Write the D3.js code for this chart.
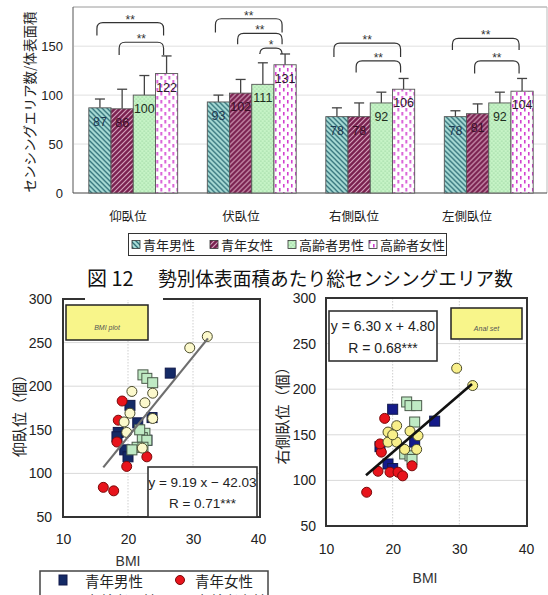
<!DOCTYPE html>
<html>
<head>
<meta charset="utf-8">
<script src="https://cdn.jsdelivr.net/npm/d3@7"></script>
<style>
  body { margin: 0; background: #fff; }
  svg { display: block; }
</style>
</head>
<body>
<svg id="chart" width="548" height="595"></svg>
<script>
// ---- bar chart data: sensing areas per body surface area, by posture ----
const postures = ["仰臥位", "伏臥位", "右側臥位", "左側臥位"];
const groups = ["青年男性", "青年女性", "高齢者男性", "高齢者女性"];
const meanYoungMale   = [87, 93, 78, 78];
const meanYoungFemale = [86, 102, 78, 81];
const meanElderMale   = [100, 111, 92, 92];
const meanElderFemale = [122, 131, 106, 104];
const sdYoungMale   = [9, 7, 9, 6];
const sdYoungFemale = [20, 14, 14, 10];
const sdElderMale   = [20, 22, 11, 11];
const sdElderFemale = [18, 11, 11, 13];
const barTicks = [0, 50, 100, 150];

// significance brackets (posture index, from group, to group, top value, end value, mark)
const sigPosture = [0, 0, 1, 1, 1, 2, 2, 3, 3];
const sigFrom    = [0, 1, 0, 1, 2, 0, 1, 0, 1];
const sigTo      = [3, 3, 3, 3, 3, 3, 3, 3, 3];
const sigTop     = [174, 154, 178, 163, 148, 153, 135, 158, 135];
const sigEnd     = [161, 141, 164, 152, 143, 139, 123, 146, 122];
const sigMark    = ["**", "**", "**", "**", "*", "**", "**", "**", "**"];

// ---- scatter data: BMI vs total sensing areas ----
const supineYoungMale   = [[26.5,215],[20.3,178],[18.5,147],[18.3,142],[19.5,127],[20.0,119],[22.9,138],[21.5,158],[23.7,164]];
const supineYoungFemale = [[16.2,84],[17.8,80],[19.8,108],[22.9,119],[19.1,183],[18.5,161],[18.3,136]];
const supineElderMale   = [[22.3,213],[22.9,209],[23.8,204],[22.6,146],[22.2,141],[22.9,138],[21.4,130],[20.6,127],[22.3,130],[21.8,150]];
const supineElderFemale = [[20.6,194],[22.6,181],[23.8,192],[23.8,163],[20.3,169],[19.4,159],[19.8,147],[22.2,129],[29.5,244],[32.2,257]];

const rightYoungMale   = [[20.0,178],[26.3,165],[18.1,137],[19.3,118],[20.0,113],[23.3,142]];
const rightYoungFemale = [[18.8,168],[16.1,87],[17.8,110],[19.6,109],[20.8,109],[21.5,105],[22.9,116],[18.3,131],[18.1,140]];
const rightElderMale   = [[22.1,186],[22.6,182],[23.6,182],[23.3,164],[21.8,129],[22.6,127],[22.9,123]];
const rightElderFemale = [[20.6,160],[19.3,153],[22.6,154],[23.8,149],[19.3,142],[20.6,142],[21.8,134],[23.6,134],[29.6,223],[32.0,204],[20.0,150]];

const supineFit = { slope: 9.19, intercept: -42.03, r: 0.71, from: 16.2, to: 32.3 };
const rightFit  = { slope: 6.30, intercept: 4.80,  r: 0.68, from: 16.0, to: 31.9 };

const bmiTicks = [10, 20, 30, 40];
const countTicks = [50, 100, 150, 200, 250, 300];

const JP = "'Noto Sans CJK JP', 'Noto Sans', sans-serif";
const NUM = "'Liberation Sans', Arial, sans-serif";

const svg = d3.select("#chart");
svg.append("rect").attr("width", 548).attr("height", 595).attr("fill", "#fff");

// ---- fill patterns ----
const defs = svg.append("defs");
const p1 = defs.append("pattern").attr("id", "pYM").attr("patternUnits", "userSpaceOnUse").attr("width", 5).attr("height", 5);
p1.append("rect").attr("width", 5).attr("height", 5).attr("fill", "#a9dcd6");
p1.append("path").attr("d", "M0,0L5,5M-1,4L1,6M4,-1L6,1").attr("stroke", "#2f6f78").attr("stroke-width", 1.3);

const p2 = defs.append("pattern").attr("id", "pYF").attr("patternUnits", "userSpaceOnUse").attr("width", 5).attr("height", 5);
p2.append("rect").attr("width", 5).attr("height", 5).attr("fill", "#7a2150");
p2.append("path").attr("d", "M0,5L5,0M-1,1L1,-1M4,6L6,4").attr("stroke", "#d8a6c0").attr("stroke-width", 1.1);

const p3 = defs.append("pattern").attr("id", "pEM").attr("patternUnits", "userSpaceOnUse").attr("width", 4).attr("height", 4);
p3.append("rect").attr("width", 4).attr("height", 4).attr("fill", "#c6f3c6");
p3.append("circle").attr("cx", 1).attr("cy", 1).attr("r", 0.6).attr("fill", "#7cbf86");
p3.append("circle").attr("cx", 3).attr("cy", 3).attr("r", 0.6).attr("fill", "#7cbf86");

const p4 = defs.append("pattern").attr("id", "pEF").attr("patternUnits", "userSpaceOnUse").attr("width", 8).attr("height", 8);
p4.append("rect").attr("width", 8).attr("height", 8).attr("fill", "#fff");
p4.append("rect").attr("x", 1).attr("y", 0).attr("width", 1.6).attr("height", 3.5).attr("fill", "#d23fcf");
p4.append("rect").attr("x", 5).attr("y", 4).attr("width", 1.6).attr("height", 3.5).attr("fill", "#d23fcf");

const groupFill = ["url(#pYM)", "url(#pYF)", "url(#pEM)", "url(#pEF)"];
const labelColor = ["#203a52", "#3a0f28", "#1e2e1e", "#2a1a2a"];

// ===================== bar chart =====================
const means = [meanYoungMale, meanYoungFemale, meanElderMale, meanElderFemale];
const sds = [sdYoungMale, sdYoungFemale, sdElderMale, sdElderFemale];

const x0 = d3.scaleBand().domain(postures).range([74, 548]).paddingInner(0.25).paddingOuter(0.125);
const x1 = d3.scaleBand().domain(groups).range([0, x0.bandwidth()]);
const yBar = d3.scaleLinear().domain([0, 190]).range([193, 7]);

const bar = svg.append("g");

// frame and gridlines
bar.append("line").attr("x1", 73).attr("x2", 547).attr("y1", 7).attr("y2", 7).attr("stroke", "#9a9a9a");
bar.append("line").attr("x1", 547).attr("x2", 547).attr("y1", 7).attr("y2", 193).attr("stroke", "#bbb");
bar.selectAll(".grid").data(barTicks.filter(t => t > 0)).join("line")
  .attr("x1", 74).attr("x2", 547)
  .attr("y1", d => yBar(d)).attr("y2", d => yBar(d))
  .attr("stroke", "#e0e0e0");

const yAxisBar = d3.axisLeft(yBar).tickValues(barTicks).tickSize(0).tickPadding(10);
const gy = bar.append("g").attr("transform", "translate(73,0)").call(yAxisBar);
gy.select(".domain").attr("stroke", "#555").attr("d", "M0,7V193");
gy.selectAll("text").attr("font-family", NUM).attr("font-size", 13).attr("fill", "#222");

bar.append("line").attr("x1", 73).attr("x2", 547).attr("y1", 193).attr("y2", 193).attr("stroke", "#444").attr("stroke-width", 1.2);

// y-axis title
bar.append("text")
  .attr("transform", "translate(35,102) rotate(-90)")
  .attr("text-anchor", "middle")
  .attr("font-family", JP).attr("font-size", 13.5).attr("fill", "#222")
  .text("センシングエリア数/体表面積");

// bars, error bars and value labels
const barData = [];
postures.forEach((p, i) => groups.forEach((g, j) => {
  barData.push({ p, g, j, v: means[j][i], sd: sds[j][i] });
}));

const cells = bar.selectAll(".cell").data(barData).join("g")
  .attr("transform", d => `translate(${x0(d.p) + x1(d.g)},0)`);

const bw = x1.bandwidth();
cells.append("line")
  .attr("x1", bw / 2).attr("x2", bw / 2)
  .attr("y1", d => yBar(d.v)).attr("y2", d => yBar(d.v + d.sd))
  .attr("stroke", "#444").attr("stroke-width", 1.3);
cells.append("line")
  .attr("x1", bw / 2 - 5).attr("x2", bw / 2 + 5)
  .attr("y1", d => yBar(d.v + d.sd)).attr("y2", d => yBar(d.v + d.sd))
  .attr("stroke", "#444").attr("stroke-width", 1.3);
cells.append("rect")
  .attr("width", bw).attr("y", d => yBar(d.v)).attr("height", d => yBar(0) - yBar(d.v))
  .attr("fill", d => groupFill[d.j]).attr("stroke", "#555").attr("stroke-width", 0.9);
cells.append("text")
  .attr("x", bw / 2).attr("y", d => yBar(d.v) + 18)
  .attr("text-anchor", "middle")
  .attr("font-family", NUM).attr("font-size", 12.5)
  .attr("fill", d => labelColor[d.j])
  .text(d => d.v);

// significance brackets
const sigData = sigPosture.map((p, k) => ({
  xa: x0(postures[p]) + x1(groups[sigFrom[k]]) + bw / 2 - 3,
  xb: x0(postures[p]) + x1(groups[sigTo[k]]) + bw / 2 - 3,
  yt: yBar(sigTop[k]), ye: yBar(sigEnd[k]), mark: sigMark[k]
}));
const sig = bar.selectAll(".sig").data(sigData).join("g");
sig.append("path")
  .attr("d", d => {
    const r = 6;
    return `M${d.xa},${d.ye}V${d.yt + r}Q${d.xa},${d.yt} ${d.xa + r},${d.yt}` +
           `H${d.xb - r}Q${d.xb},${d.yt} ${d.xb},${d.yt + r}V${d.ye}`;
  })
  .attr("fill", "none").attr("stroke", "#333").attr("stroke-width", 1.2);
sig.append("text")
  .attr("x", d => (d.xa + d.xb) / 2).attr("y", d => d.yt + 1)
  .attr("text-anchor", "middle")
  .attr("font-family", NUM).attr("font-size", 12).attr("fill", "#333")
  .text(d => d.mark);

// category labels
const xLabel = d3.scalePoint().domain(postures).range([128, 467]);
bar.selectAll(".cat").data(postures).join("text")
  .attr("x", d => xLabel(d)).attr("y", 221)
  .attr("text-anchor", "middle")
  .attr("font-family", JP).attr("font-size", 12.5).attr("fill", "#222")
  .text(d => d);

// legend
const lg = bar.append("g");
lg.append("rect").attr("x", 128.5).attr("y", 233.5).attr("width", 318).attr("height", 22)
  .attr("fill", "#fff").attr("stroke", "#333").attr("stroke-width", 1);
const legendX = [132, 210, 288, 369];
groups.forEach((g, j) => {
  lg.append("rect").attr("x", legendX[j]).attr("y", 240.5).attr("width", 8).attr("height", 8)
    .attr("fill", groupFill[j]).attr("stroke", "#333").attr("stroke-width", 0.8);
  lg.append("text").attr("x", legendX[j] + 11).attr("y", 249.5)
    .attr("font-family", JP).attr("font-size", 13).attr("fill", "#222").text(g);
});

// ===================== scatter plots =====================
function scatter(o) {
  const g = svg.append("g");
  const x = d3.scaleLinear().domain([10, 40]).range(o.xr);
  const y = d3.scaleLinear().domain([50, 300]).range(o.yr);

  // gridlines
  g.selectAll(".gx").data([20, 30]).join("line")
    .attr("x1", d => x(d)).attr("x2", d => x(d)).attr("y1", o.yr[1]).attr("y2", o.yr[0])
    .attr("stroke", "#cfcfcf").attr("stroke-dasharray", "1.5,1.5");
  g.selectAll(".gy").data([100, 150, 200, 250]).join("line")
    .attr("x1", o.xr[0]).attr("x2", o.boxRight).attr("y1", d => y(d)).attr("y2", d => y(d))
    .attr("stroke", "#d9d9d9");

  // axes
  const ax = d3.axisLeft(y).tickValues(countTicks).tickSize(0).tickPadding(o.tickPadY);
  const gya = g.append("g").attr("transform", `translate(${o.xr[0]},0)`).call(ax);
  gya.select(".domain").remove();
  gya.selectAll("text").attr("font-family", NUM).attr("font-size", 14).attr("fill", "#222");
  const bx = d3.axisBottom(x).tickValues(bmiTicks).tickSize(0).tickPadding(o.tickPadX);
  const gxa = g.append("g").attr("transform", `translate(0,${o.yr[0]})`).call(bx);
  gxa.select(".domain").remove();
  gxa.selectAll("text").attr("font-family", NUM).attr("font-size", 14).attr("fill", "#222");

  g.append("text").attr("x", o.bmiX).attr("y", o.bmiY).attr("text-anchor", "middle")
    .attr("font-family", NUM).attr("font-size", 14).attr("fill", "#333").text("BMI");
  g.append("text")
    .attr("transform", `translate(${o.titleX},${o.titleY}) rotate(-90)`)
    .attr("text-anchor", "middle")
    .attr("font-family", JP).attr("font-size", 15).attr("fill", "#222")
    .text(o.title);

  // markers
  const sq = 10, rad = 5;
  const drawSquares = (pts, fill, stroke) => g.append("g").selectAll("rect").data(pts).join("rect")
    .attr("x", d => x(d[0]) - sq / 2).attr("y", d => y(d[1]) - sq / 2)
    .attr("width", sq).attr("height", sq)
    .attr("fill", fill).attr("stroke", stroke).attr("stroke-width", 1);
  const drawCircles = (pts, fill, stroke) => g.append("g").selectAll("circle").data(pts).join("circle")
    .attr("cx", d => x(d[0])).attr("cy", d => y(d[1])).attr("r", rad)
    .attr("fill", fill).attr("stroke", stroke).attr("stroke-width", 1);
  drawSquares(o.ym, o.ymColor, "#10184a");
  drawSquares(o.em, "#bfeac4", "#4a5a4a");
  drawCircles(o.yf, "#e8141c", "#7a0a0a");
  drawCircles(o.ef, o.efColor, "#4a4a2a");

  // regression line
  const f = o.fit;
  g.append("line")
    .attr("x1", x(f.from)).attr("y1", y(f.slope * f.from + f.intercept))
    .attr("x2", x(f.to)).attr("y2", y(f.slope * f.to + f.intercept))
    .attr("stroke", o.lineColor).attr("stroke-width", o.lineWidth);

  // plot frame
  g.append("rect").attr("x", o.xr[0]).attr("y", o.yr[1])
    .attr("width", o.boxRight - o.xr[0]).attr("height", o.yr[0] - o.yr[1])
    .attr("fill", "none").attr("stroke", "#333").attr("stroke-width", 2);

  // equation box
  const eb = o.eqBox;
  g.append("rect").attr("x", eb[0]).attr("y", eb[1]).attr("width", eb[2]).attr("height", eb[3])
    .attr("fill", "#fff").attr("stroke", "#333").attr("stroke-width", 1.6);
  const sign = f.intercept < 0 ? "−" : "+";
  g.append("text").attr("x", eb[0] + eb[2] / 2).attr("y", eb[1] + o.eqLine1)
    .attr("text-anchor", "middle").attr("font-family", NUM).attr("font-size", o.eqSize).attr("fill", "#222")
    .text(`y = ${f.slope.toFixed(2)} x ${sign} ${Math.abs(f.intercept).toFixed(2)}`);
  g.append("text").attr("x", eb[0] + eb[2] / 2).attr("y", eb[1] + o.eqLine2)
    .attr("text-anchor", "middle").attr("font-family", NUM).attr("font-size", o.eqSize).attr("fill", "#222")
    .text(`R = ${f.r.toFixed(2)}***`);

  // yellow label box
  const yb = o.tagBox;
  g.append("rect").attr("x", yb[0]).attr("y", yb[1]).attr("width", yb[2]).attr("height", yb[3])
    .attr("fill", "#f8f58a").attr("stroke", "#222").attr("stroke-width", 1.5);
  g.append("text").attr("x", yb[0] + yb[2] / 2).attr("y", yb[1] + yb[3] / 2 + 7)
    .attr("text-anchor", "middle").attr("font-family", NUM).attr("font-style", "italic")
    .attr("font-size", 7).attr("fill", "#555").text(o.tag);
}

scatter({
  xr: [63, 258], yr: [517, 299], boxRight: 260,
  tickPadY: 11, tickPadX: 17, bmiX: 128, bmiY: 566,
  title: "仰臥位（個）", titleX: 25, titleY: 412,
  ym: supineYoungMale, yf: supineYoungFemale, em: supineElderMale, ef: supineElderFemale,
  ymColor: "#142a66", efColor: "#fcf9cc",
  fit: supineFit, lineColor: "#6e6e6e", lineWidth: 2.2,
  eqBox: [148, 467, 109, 50], eqLine1: 20, eqLine2: 41, eqSize: 13.5,
  tagBox: [66, 305, 82, 35], tag: "BMI plot"
});

scatter({
  xr: [326, 526], yr: [526, 298], boxRight: 527,
  tickPadY: 10, tickPadX: 18, bmiX: 425, bmiY: 583,
  title: "右側臥位（個）", titleX: 288, titleY: 412,
  ym: rightYoungMale, yf: rightYoungFemale, em: rightElderMale, ef: rightElderFemale,
  ymColor: "#141a8a", efColor: "#f8ef8a",
  fit: rightFit, lineColor: "#111", lineWidth: 2.6,
  eqBox: [329, 311, 108, 50], eqLine1: 20, eqLine2: 42, eqSize: 14,
  tagBox: [451, 308, 71, 31], tag: "Anal set"
});

// caption
svg.append("rect").attr("x", 85).attr("y", 265).attr("width", 78).attr("height", 35).attr("fill", "#fff");
svg.append("text").attr("x", 87).attr("y", 286)
  .attr("font-family", JP).attr("font-size", 20).attr("fill", "#111").text("図 12");
svg.append("text").attr("x", 158).attr("y", 286)
  .attr("font-family", JP).attr("font-size", 19).attr("fill", "#111")
  .attr("textLength", 355).attr("lengthAdjust", "spacingAndGlyphs")
  .text("勢別体表面積あたり総センシングエリア数");

// scatter legend
const sl = svg.append("g");
sl.append("rect").attr("x", 40).attr("y", 571).attr("width", 228).attr("height", 40)
  .attr("fill", "#fff").attr("stroke", "#444").attr("stroke-width", 1.5);
sl.append("rect").attr("x", 59).attr("y", 575).attr("width", 8).attr("height", 10)
  .attr("fill", "#142a66").attr("stroke", "#10184a");
sl.append("text").attr("x", 85).attr("y", 587).attr("font-family", JP).attr("font-size", 14.5)
  .attr("fill", "#222").text(groups[0]);
sl.append("circle").attr("cx", 180).attr("cy", 580).attr("r", 4.5).attr("fill", "#e8141c").attr("stroke", "#7a0a0a");
sl.append("text").attr("x", 195).attr("y", 587).attr("font-family", JP).attr("font-size", 14.5)
  .attr("fill", "#222").text(groups[1]);
sl.append("rect").attr("x", 59).attr("y", 596).attr("width", 8).attr("height", 10)
  .attr("fill", "#bfeac4").attr("stroke", "#4a5a4a");
sl.append("text").attr("x", 85).attr("y", 607).attr("font-family", JP).attr("font-size", 14.5)
  .attr("fill", "#222").text(groups[2]);
sl.append("circle").attr("cx", 180).attr("cy", 600).attr("r", 4.5).attr("fill", "#fcf9cc").attr("stroke", "#4a4a2a");
sl.append("text").attr("x", 195).attr("y", 607).attr("font-family", JP).attr("font-size", 14.5)
  .attr("fill", "#222").text(groups[3]);
</script>
</body>
</html>
